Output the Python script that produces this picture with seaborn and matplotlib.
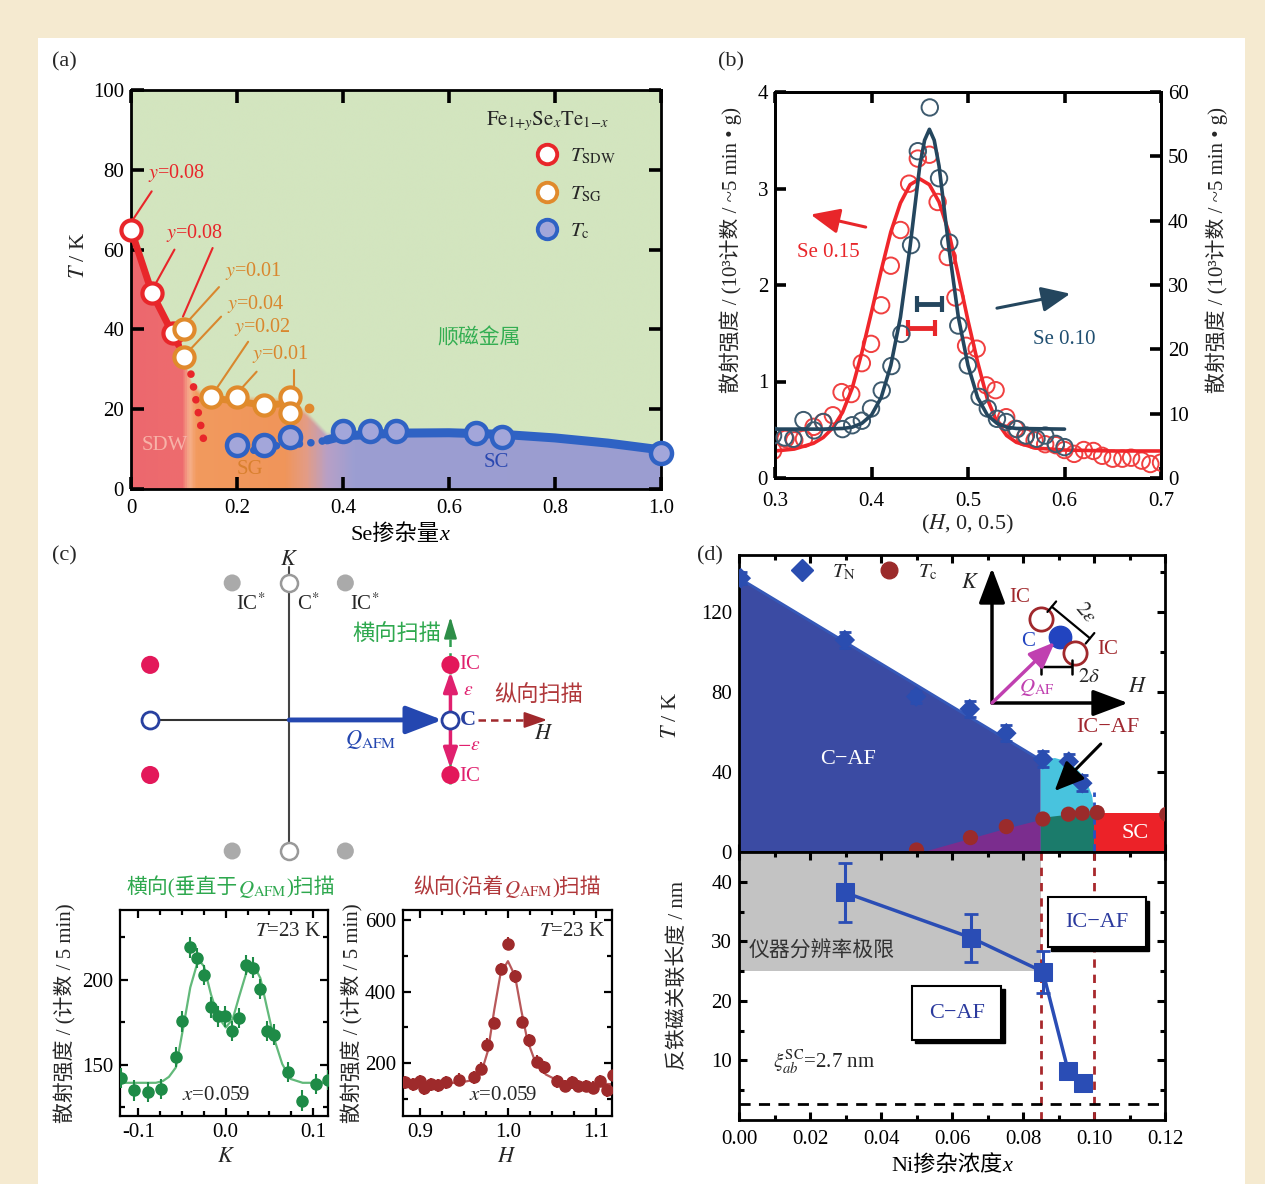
import numpy as np
import pandas as pd
import matplotlib
matplotlib.use("Agg")
import matplotlib.pyplot as plt
import seaborn as sns
from matplotlib.patches import Rectangle
from matplotlib.lines import Line2D
from matplotlib.colors import LinearSegmentedColormap, to_rgba
from matplotlib.offsetbox import TextArea, HPacker, AnnotationBbox
from matplotlib.ticker import MultipleLocator, FormatStrFormatter, FixedLocator

# ======================= DATA =======================
# ---- (a) Fe1+ySexTe1-x phase diagram ----
a_sdw_x = [0.0, 0.04, 0.08]
a_sdw_T = [65, 49, 39]
a_sg_x = [0.10, 0.10, 0.15, 0.20, 0.25, 0.30, 0.30]
a_sg_T = [40, 33, 23, 23, 21, 23, 19]
a_tc_x = [0.20, 0.25, 0.30, 0.40, 0.45, 0.50, 0.65, 0.70, 1.00]
a_tc_T = [11, 11, 13, 14.5, 14.5, 14.5, 14, 13, 9]
a_sdwline_x = [0.0, 0.04, 0.09]
a_sdwline_T = [65, 49, 36]
a_sdwdot_x = [0.108, 0.116, 0.123, 0.130, 0.136, 0.141]
a_sdwdot_T = [32, 27, 22, 17, 13, 10]
a_sgline_x = [0.14, 0.20, 0.25, 0.30]
a_sgline_T = [23, 22, 21, 21.5]
a_sgdot_x = [0.335]
a_sgdot_T = [20.2]
a_scdot_x = [0.21, 0.24, 0.28, 0.31, 0.34, 0.37]
a_scdot_T = [9.5, 9.8, 11, 11.2, 11.6, 12.2]
a_scline_x = [0.37, 0.40, 0.50, 0.60, 0.70, 0.80, 0.90, 1.00]
a_scline_T = [12.3, 13.3, 14.0, 14.1, 13.7, 12.8, 11.5, 9.8]
a_bnd_x = [0.0, 0.04, 0.09, 0.115, 0.14, 0.30, 0.33, 0.37, 0.40, 0.60, 0.80, 1.00]
a_bnd_T = [65, 49, 37, 26, 23, 22, 19, 13.5, 13.5, 14.1, 12.8, 9.8]
a_yl_text = ["y=0.08", "y=0.08", "y=0.01", "y=0.04", "y=0.02", "y=0.01"]

# ---- (b) neutron scans ----
b_red_H = [0.298, 0.311, 0.320, 0.330, 0.340, 0.350, 0.360, 0.369, 0.379, 0.390, 0.3995, 0.410,
           0.420, 0.430, 0.439, 0.448, 0.460, 0.4685, 0.479, 0.487, 0.498, 0.509, 0.519, 0.5286,
           0.5396, 0.549, 0.559, 0.569, 0.580, 0.591, 0.600, 0.610, 0.620, 0.630, 0.639, 0.650,
           0.660, 0.669, 0.680, 0.689, 0.700]
b_red_I = [0.28, 0.405, 0.39, 0.405, 0.53, 0.58, 0.65, 0.89, 0.87, 1.19, 1.39, 1.79, 2.20, 2.57,
           3.05, 3.31, 3.35, 2.86, 2.29, 1.87, 1.37, 1.34, 0.96, 0.91, 0.63, 0.51, 0.42, 0.39,
           0.35, 0.34, 0.29, 0.25, 0.29, 0.28, 0.23, 0.20, 0.20, 0.21, 0.18, 0.145, 0.16]
b_blue_H = [0.298, 0.310, 0.319, 0.3295, 0.3405, 0.350, 0.370, 0.380, 0.390, 0.3995, 0.4106,
            0.4206, 0.431, 0.441, 0.448, 0.4604, 0.470, 0.4806, 0.4899, 0.4998, 0.512, 0.5205,
            0.530, 0.5396, 0.5507, 0.560, 0.571, 0.580, 0.591, 0.600]
b_blue_I = [6.6, 6.3, 6.1, 9.0, 7.4, 8.7, 7.6, 8.2, 8.9, 10.8, 13.6, 17.4, 22.4, 36.2, 50.8,
            57.6, 46.6, 36.6, 23.7, 17.5, 12.6, 10.8, 9.2, 8.7, 7.6, 6.6, 6.1, 6.6, 5.3, 4.8]
b_redfit_H = [0.30, 0.32, 0.34, 0.35, 0.36, 0.37, 0.38, 0.39, 0.40, 0.41, 0.42, 0.43, 0.44, 0.45,
              0.46, 0.47, 0.48, 0.49, 0.50, 0.51, 0.52, 0.53, 0.54, 0.55, 0.57, 0.60, 0.65, 0.70]
b_redfit_I = [0.28, 0.30, 0.36, 0.42, 0.52, 0.68, 0.93, 1.30, 1.72, 2.15, 2.55, 2.85, 3.04, 3.10,
              3.04, 2.86, 2.55, 2.10, 1.63, 1.20, 0.82, 0.58, 0.44, 0.37, 0.31, 0.29, 0.28, 0.28]
b_bluefit_H = [0.30, 0.35, 0.37, 0.38, 0.39, 0.40, 0.41, 0.42, 0.43, 0.44, 0.45, 0.455, 0.46,
               0.465, 0.47, 0.48, 0.49, 0.50, 0.51, 0.52, 0.53, 0.54, 0.55, 0.60]
b_bluefit_I = [7.6, 7.6, 7.7, 7.9, 8.5, 9.8, 12.5, 17.5, 25, 36, 48.5, 52.5, 54.2, 52.5, 48.5,
               36, 25, 17.5, 12.5, 9.8, 8.5, 7.9, 7.7, 7.6]
b_res_center = [0.452, 0.460]   # red, blue resolution bars
b_res_half = [0.014, 0.0133]
b_res_level = [1.55, 27.0]      # red (left axis), blue (right axis)

# ---- (c) schematic (reciprocal lattice units of the sketch) ----
c_gray_x = [-0.354, 0.348, -0.354, 0.348]
c_gray_y = [0.851, 0.851, -0.814, -0.814]
c_cstar_x = [0.0, 0.0]
c_cstar_y = [0.851, -0.814]
c_red_x = [-0.863, -0.863]
c_red_y = [0.342, -0.342]
c_ic_x = [1.0, 1.0]
c_ic_y = [0.342, -0.342]
c_open_x = [-0.863, 1.0]
c_open_y = [0.0, 0.0]

# ---- (c) transverse / longitudinal scans ----
ck_K = [-0.120, -0.105, -0.0887, -0.0736, -0.057, -0.0495, -0.0406, -0.033, -0.025, -0.017,
        -0.0085, -0.0005, 0.007, 0.015, 0.0236, 0.0316, 0.0396, 0.047, 0.055, 0.0708, 0.0873,
        0.1033, 0.1175]
ck_I = [142.4, 135, 134, 136, 154.5, 175.6, 219, 212.7, 202.7, 183.8, 178.5, 178.5, 170, 177.7,
        208.6, 207.2, 194.7, 170, 167.8, 145.7, 129, 138.9, 141.2]
ck_fit_K = [-0.121, -0.08, -0.072, -0.065, -0.057, -0.0486, -0.0406, -0.033, -0.03, -0.025,
            -0.017, -0.0085, 0.0, 0.008, 0.015, 0.0236, 0.029, 0.034, 0.0396, 0.047, 0.055,
            0.0646, 0.074, 0.088, 0.117]
ck_fit_I = [139.5, 139.5, 140.5, 143, 148.6, 172, 195.5, 209, 211, 208, 191.6, 178, 172, 177,
            189.6, 204.3, 207, 206.6, 201, 184, 166, 150.6, 141.8, 139.5, 139.5]
ch_H = [0.883, 0.892, 0.900, 0.905, 0.913, 0.921, 0.930, 0.945, 0.961, 0.9696, 0.9766, 0.9845,
        0.9925, 1.000, 1.008, 1.0164, 1.024, 1.033, 1.041, 1.056, 1.065, 1.0726, 1.080, 1.089,
        1.097, 1.104, 1.112, 1.119]
ch_I = [146, 141, 149, 130, 141, 138, 146, 153, 160, 184, 251, 312, 463, 534, 443, 315, 264,
        204, 188, 149, 136, 146, 136, 136, 131, 150, 124, 166]
ch_fit_H = [0.881, 0.92, 0.947, 0.961, 0.9705, 0.9775, 0.9845, 0.9916, 1.0, 1.008, 1.015, 1.022,
            1.031, 1.043, 1.055, 1.0735, 1.118]
ch_fit_I = [141, 142, 146, 153, 179, 236, 349, 450, 485, 444, 349, 264, 203, 168, 153, 145, 141]

# ---- (d) BaFe2-xNixAs2 ----
d_tn_x = [0.0005, 0.0298, 0.0499, 0.065, 0.0753, 0.0856, 0.0929, 0.0967]
d_tn_T = [136.9, 106.0, 77.7, 71.5, 59.4, 46.4, 45.2, 34.4]
d_tn_err = [3, 4, 3, 4, 4, 4, 4, 4]
d_tc_x = [0.050, 0.0652, 0.0753, 0.0856, 0.0928, 0.0967, 0.1009, 0.1205]
d_tc_T = [1.0, 7.2, 12.7, 16.5, 18.9, 19.4, 19.7, 18.9]
d_caf_x = [0.0, 0.0, 0.085, 0.085]
d_caf_T = [0.0, 137.0, 46.0, 0.0]
d_icaf_x = [0.085, 0.085, 0.089, 0.093, 0.096, 0.098, 0.0995, 0.100, 0.100]
d_icaf_T = [0.0, 46.0, 47.0, 45.0, 40.0, 35.0, 28.0, 20.0, 0.0]
d_pur_x = [0.052, 0.065, 0.075, 0.085, 0.085]
d_pur_T = [0.0, 6.5, 11.5, 16.0, 0.0]
d_teal_x = [0.085, 0.085, 0.092, 0.100, 0.100]
d_teal_T = [0.0, 17.0, 18.5, 19.0, 0.0]
d_sc_x = [0.100, 0.100, 0.120, 0.120]
d_sc_T = [0.0, 19.5, 19.5, 0.0]
d_xi_x = [0.0298, 0.0654, 0.0856, 0.0927, 0.0969]
d_xi = [38.2, 30.6, 24.9, 8.3, 6.2]
d_xi_err = [5.0, 4.0, 3.5, 0.8, 0.5]
d_xi_sc = 2.7
d_res_limit = 25.0
d_bounds = [0.085, 0.100]

# ======================= STYLE =======================
sns.set_theme(style="white")
FAM = ["Liberation Serif", "Noto Sans CJK SC", "DejaVu Sans"]
plt.rcParams["font.family"] = FAM
plt.rcParams["mathtext.fontset"] = "stix"
plt.rcParams["axes.unicode_minus"] = True

W, H = 1265, 1184
fig = plt.figure(figsize=(W / 100, H / 100), dpi=100)
fig.patch.set_facecolor("#F5EAD0")
fig.add_artist(Rectangle((38 / W, 0), (1245 - 38) / W, 1 - 38 / H, transform=fig.transFigure,
                         fc="white", ec="none", zorder=-5))


def pax(l, t, r, b):
    return fig.add_axes([l / W, 1 - b / H, (r - l) / W, (b - t) / H])


def ftext(x, y, s, **kw):
    kw.setdefault("ha", "center")
    kw.setdefault("va", "center")
    return fig.text(x / W, 1 - y / H, s, **kw)


def mixed(x, y, parts, fs=15, color="black"):
    boxes = []
    for s, extra in parts:
        props = dict(fontsize=fs, color=color, family=FAM)
        props.update(extra)
        boxes.append(TextArea(s, textprops=props))
    pack = HPacker(children=boxes, align="baseline", pad=0, sep=0)
    ab = AnnotationBbox(pack, (x, H - y), xycoords="figure pixels", frameon=False,
                        box_alignment=(0.5, 0.5), pad=0)
    fig.add_artist(ab)


def style(ax, lw=1.8, tl=7, tw=2.0, ls=14, pad=5):
    for sp in ax.spines.values():
        sp.set_linewidth(lw)
        sp.set_color("black")
        sp.set_visible(True)
    ax.tick_params(which="both", direction="in", top=True, right=True, bottom=True, left=True,
                   width=tw, colors="black", labelsize=ls, pad=pad)
    ax.tick_params(which="major", length=tl)
    ax.tick_params(which="minor", length=tl * 0.6)


RED = "#E8262A"
ORG = "#D9872E"
BLU = "#2F62C4"

# ======================= (a) =======================
axa = pax(131, 90, 661, 489)
xs = np.linspace(0, 1, 700)
Ts = np.linspace(0, 100, 500)
Tb = np.interp(xs, a_bnd_x, a_bnd_T)
cm = LinearSegmentedColormap.from_list("ph", [
    (0.0, "#EC686E"), (0.095, "#EE6C6E"), (0.108, "#F6B08C"), (0.122, "#F29A5E"),
    (0.29, "#F0955A"), (0.33, "#E39C86"), (0.37, "#B8A0C6"), (0.42, "#9C9ED2"), (1.0, "#9B9DD0")])
base = cm(xs)
green = np.array(to_rgba("#D3E5BF"))
wgt = np.clip((Ts[:, None] - Tb[None, :]) / 1.6 + 0.5, 0, 1)[..., None]
img = base[None, :, :] * (1 - wgt) + green[None, None, :] * wgt
axa.imshow(img, extent=[0, 1, 0, 100], origin="lower", aspect="auto", interpolation="bilinear", zorder=0)

axa.plot(a_sdwline_x, a_sdwline_T, color=RED, lw=5, solid_capstyle="round", zorder=3)
axa.plot(a_sdwdot_x, a_sdwdot_T, color=RED, lw=5.5, ls=(0, (0.01, 1.7)), dash_capstyle="round", zorder=3)
axa.plot(a_sgline_x, a_sgline_T, color="#E0892E", lw=5, solid_capstyle="round", zorder=3)
axa.plot(a_sgdot_x, a_sgdot_T, "o", color="#E0892E", ms=6, zorder=3)
axa.plot(a_scdot_x, a_scdot_T, color=BLU, lw=5.5, ls=(0, (0.01, 1.5)), dash_capstyle="round", zorder=3)
axa.plot(a_scline_x, a_scline_T, color=BLU, lw=6.5, solid_capstyle="round", zorder=3)

sns.scatterplot(x=a_sdw_x, y=a_sdw_T, ax=axa, s=210, facecolor="white", edgecolor=RED,
                linewidth=3, zorder=5, legend=False, clip_on=False)
sns.scatterplot(x=a_sg_x, y=a_sg_T, ax=axa, s=210, facecolor="white", edgecolor="#E08A2C",
                linewidth=3, zorder=6, legend=False, clip_on=False)
sns.scatterplot(x=a_tc_x, y=a_tc_T, ax=axa, s=230, facecolor="#A3A6DA", edgecolor=BLU,
                linewidth=3.2, zorder=6, legend=False, clip_on=False)

# annotations y=...
a_yl_pos = [(0.033, 79.2), (0.066, 64.1), (0.177, 54.6), (0.181, 46.4), (0.194, 40.5), (0.229, 33.8)]
a_yl_col = [RED, RED, ORG, ORG, ORG, ORG]
for s, (px_, py_), c in zip(a_yl_text, a_yl_pos, a_yl_col):
    axa.text(px_, py_, "$y$" + s[1:], color=c, fontsize=14.5, ha="left", va="center", zorder=7)
a_lead = [((0.003, 67.4), (0.039, 74.6), RED), ((0.047, 51.6), (0.082, 60.0), RED),
          ((0.098, 43.2), (0.154, 60.4), RED), ((0.110, 42.4), (0.166, 50.6), ORG),
          ((0.114, 35.3), (0.170, 43.2), ORG), ((0.162, 25.3), (0.221, 36.9), ORG),
          ((0.209, 25.3), (0.237, 29.4), ORG), ((0.307, 25.6), (0.307, 29.8), ORG)]
for p0, p1, c in a_lead:
    axa.plot([p0[0], p1[0]], [p0[1], p1[1]], color=c, lw=1.5, zorder=4)

axa.text(0.064, 11, "SDW", color="#F7B2A8", fontsize=15, ha="center", va="center", zorder=4)
axa.text(0.225, 5, "SG", color="#D9802E", fontsize=15, ha="center", va="center", zorder=4)
axa.text(0.69, 6.6, "SC", color="#2A48B0", fontsize=15, ha="center", va="center", zorder=4)
axa.text(0.656, 37.8, "顺磁金属", color="#34AE52", fontsize=15, ha="center", va="center", zorder=4)
axa.text(0.785, 92.3, r"$\mathrm{Fe}_{1{+}y}\mathrm{Se}_{x}\mathrm{Te}_{1{-}x}$", fontsize=15,
         ha="center", va="center", zorder=7)
hd = [Line2D([], [], marker="o", ls="none", ms=14, mfc="white", mec=RED, mew=2.8),
      Line2D([], [], marker="o", ls="none", ms=14, mfc="white", mec="#E08A2C", mew=2.8),
      Line2D([], [], marker="o", ls="none", ms=14, mfc="#A3A6DA", mec=BLU, mew=2.8)]
lg = axa.legend(hd, [r"$T_{\rm SDW}$", r"$T_{\rm SG}$", r"$T_{\rm c}$"], loc="upper left",
                bbox_to_anchor=(0.765, 0.857), frameon=False, fontsize=15, handlelength=1.0,
                handletextpad=0.6, labelspacing=0.85, borderaxespad=0, borderpad=0)
lg.set_zorder(8)
axa.set_xlim(0, 1)
axa.set_ylim(0, 100)
axa.xaxis.set_major_locator(MultipleLocator(0.2))
axa.yaxis.set_major_locator(MultipleLocator(20))
axa.xaxis.set_major_formatter(matplotlib.ticker.FuncFormatter(lambda v, p: "0" if abs(v) < 1e-9 else f"{v:.1f}"))
style(axa, lw=2.0, tl=9, tw=2.6, ls=15)
axa.tick_params(axis="x", pad=7)
axa.set_xlabel("")
axa.set_ylabel("")
mixed(400, 535, [("Se掺杂量", {}), ("x", {"style": "italic"})], fs=16)
ftext(80, 255, r"$T$ / K", fontsize=16, rotation=90)

# ======================= (b) =======================
axb = pax(775, 92, 1161, 478)
axb2 = axb.twinx()
sns.lineplot(x=b_redfit_H, y=b_redfit_I, ax=axb, color="#F0262B", lw=2.6, zorder=4)
sns.scatterplot(x=b_red_H, y=b_red_I, ax=axb, s=140, facecolor="none", edgecolor="#F04040",
                linewidth=1.4, zorder=3, legend=False)
sns.lineplot(x=b_bluefit_H, y=b_bluefit_I, ax=axb2, color="#24465E", lw=2.6, zorder=4)
sns.scatterplot(x=b_blue_H, y=b_blue_I, ax=axb2, s=140, facecolor="none", edgecolor="#3D5A6E",
                linewidth=1.4, zorder=3, legend=False)
axb.errorbar([b_res_center[0]], [b_res_level[0]], xerr=[b_res_half[0]], fmt="none", ecolor="#E8262A",
             elinewidth=3.5, capsize=6, capthick=3)
axb2.errorbar([b_res_center[1]], [b_res_level[1]], xerr=[b_res_half[1]], fmt="none", ecolor="#24465E",
              elinewidth=3.5, capsize=6, capthick=3)
axb.annotate("", xy=(0.337, 2.73), xytext=(0.394, 2.60),
             arrowprops=dict(arrowstyle="-|>,head_length=0.8,head_width=0.35", color=RED, lw=2.2,
                             mutation_scale=22, shrinkA=0, shrinkB=0))
axb.annotate("", xy=(0.606, 1.91), xytext=(0.530, 1.76),
             arrowprops=dict(arrowstyle="-|>,head_length=0.8,head_width=0.35", color="#24465E", lw=2.2,
                             mutation_scale=22, shrinkA=0, shrinkB=0))
axb.text(0.355, 2.34, "Se 0.15", color=RED, fontsize=15, ha="center", va="center")
axb.text(0.600, 1.44, "Se 0.10", color="#1F4E70", fontsize=15, ha="center", va="center")
axb.set_xlim(0.3, 0.7)
axb.set_ylim(0, 4)
axb2.set_ylim(0, 60)
axb.xaxis.set_major_locator(MultipleLocator(0.1))
axb.yaxis.set_major_locator(MultipleLocator(1))
axb2.yaxis.set_major_locator(MultipleLocator(10))
style(axb, lw=2.0, tl=8, tw=2.6, ls=15)
axb.tick_params(right=False)
axb.tick_params(axis="x", pad=10)
style(axb2, lw=2.0, tl=8, tw=2.6, ls=15)
axb2.tick_params(left=False, top=False, bottom=False, labelleft=False, labelright=True,
                 labelbottom=False)
for a_ in (axb, axb2):
    a_.set_xlabel("")
    a_.set_ylabel("")
ftext(731, 250, "散射强度 / (10³计数 / ~5 min • g)", fontsize=15, rotation=90)
ftext(1217, 250, "散射强度 / (10³计数 / ~5 min • g)", fontsize=15, rotation=90)
ftext(968, 524, r"($H$, 0, 0.5)", fontsize=16)

# ======================= (c) schematic =======================
axc = pax(120, 548, 660, 870)
axc.set_xlim(-1.05, 2.30)
axc.set_ylim(-0.932, 1.068)
axc.axis("off")
axc.plot([0, 0], [-0.87, 0.95], color="#444444", lw=1.5, zorder=1)
axc.plot([c_open_x[0], 0], [0, 0], color="#333333", lw=1.5, zorder=1)
axc.annotate("", xy=(c_open_x[1] - 0.05, 0), xytext=(0, 0),
             arrowprops=dict(arrowstyle="-|>,head_length=1.3,head_width=0.5", color="#2447B0",
                             lw=3.5, mutation_scale=17, shrinkA=0, shrinkB=0), zorder=2)
axc.plot([1.17, 1.52], [0, 0], color="#A0282C", lw=1.8, ls=(0, (3, 2)), zorder=1)
axc.annotate("", xy=(1.60, 0), xytext=(1.52, 0),
             arrowprops=dict(arrowstyle="-|>,head_length=1.0,head_width=0.35", color="#A0282C",
                             lw=1.5, mutation_scale=14, shrinkA=0, shrinkB=0))
axc.plot([1, 1], [-0.40, 0.55], color="#2E9E50", lw=1.8, ls=(0, (3, 2.5)), zorder=1)
axc.annotate("", xy=(1, 0.64), xytext=(1, 0.56),
             arrowprops=dict(arrowstyle="-|>,head_length=1.0,head_width=0.3", color="#2E8E48",
                             lw=1.5, mutation_scale=13, shrinkA=0, shrinkB=0))
for yy in (0.30, -0.30):
    axc.annotate("", xy=(1, yy), xytext=(1, np.sign(yy) * 0.04),
                 arrowprops=dict(arrowstyle="-|>,head_length=1.0,head_width=0.35", color="#E0206E",
                                 lw=2.5, mutation_scale=12, shrinkA=0, shrinkB=0), zorder=3)
sns.scatterplot(x=c_gray_x, y=c_gray_y, ax=axc, s=150, color="#AAAAAA", edgecolor="none", legend=False)
sns.scatterplot(x=c_cstar_x, y=c_cstar_y, ax=axc, s=150, facecolor="white", edgecolor="#999999",
                linewidth=1.8, legend=False, zorder=4)
sns.scatterplot(x=c_red_x, y=c_red_y, ax=axc, s=170, color="#E3185A", edgecolor="none", legend=False)
sns.scatterplot(x=c_ic_x, y=c_ic_y, ax=axc, s=170, color="#E3185A", edgecolor="none", legend=False, zorder=4)
sns.scatterplot(x=c_open_x, y=c_open_y, ax=axc, s=150, facecolor="white", edgecolor="#2840A0",
                linewidth=2, legend=False, zorder=4)
axc.text(0, 0.99, "$K$", fontsize=16, ha="center", va="center")
axc.text(-0.242, 0.72, r"IC$^{*}$", fontsize=15, ha="center", va="center")
axc.text(0.118, 0.72, r"C$^{*}$", fontsize=15, ha="center", va="center")
axc.text(0.466, 0.72, r"IC$^{*}$", fontsize=15, ha="center", va="center")
axc.text(0.665, 0.534, "横向扫描", fontsize=16, color="#2EA84E", ha="center", va="center")
axc.text(1.547, 0.149, "纵向扫描", fontsize=16, color="#B0373A", ha="center", va="center")
axc.text(1.578, -0.093, "$H$", fontsize=16, ha="center", va="center")
axc.text(0.503, -0.124, r"$Q_{\rm AFM}$", fontsize=16, color="#2447B0", ha="center", va="center")
axc.text(1.118, 0.342, "IC", fontsize=15, color="#E0206E", ha="center", va="center")
axc.text(1.118, -0.354, "IC", fontsize=15, color="#E0206E", ha="center", va="center")
axc.text(1.112, 0.18, r"$\varepsilon$", fontsize=14, color="#E0206E", ha="center", va="center")
axc.text(1.112, -0.16, r"$-\varepsilon$", fontsize=14, color="#E0206E", ha="center", va="center")
axc.text(1.11, 0.0, "C", fontsize=16, color="#2840A0", ha="center", va="center", fontweight="bold")

# ======================= (c) scans =======================
axcl = pax(120, 910, 328, 1116)
sns.lineplot(x=ck_fit_K, y=ck_fit_I, ax=axcl, color="#62B97A", lw=1.6, zorder=2)
axcl.errorbar(ck_K, ck_I, yerr=6, fmt="o", color="#1E8B47", ms=8, elinewidth=1.5, capsize=0, zorder=3)
axcl.set_xlim(-0.121, 0.117)
axcl.set_ylim(120, 241)
axcl.xaxis.set_major_locator(MultipleLocator(0.1))
axcl.xaxis.set_minor_locator(MultipleLocator(0.025))
axcl.yaxis.set_major_locator(MultipleLocator(50))
axcl.yaxis.set_minor_locator(MultipleLocator(25))
axcl.xaxis.set_major_formatter(FormatStrFormatter("%.1f"))
style(axcl, lw=1.6, tl=6, tw=1.6, ls=15)
axcl.text(0.97, 0.94, r"$T$=23 K", transform=axcl.transAxes, fontsize=15, ha="right", va="top")
axcl.text(0.46, 0.1, r"$x$=0.059", transform=axcl.transAxes, fontsize=15, ha="center", va="center")
axcl.set_xlabel("")
axcl.set_ylabel("")

axcr = pax(403, 910, 612, 1116)
sns.lineplot(x=ch_fit_H, y=ch_fit_I, ax=axcr, color="#B8585A", lw=1.6, zorder=2)
axcr.errorbar(ch_H, ch_I, yerr=18, fmt="o", color="#9E2A2B", ms=8, elinewidth=1.5, capsize=0, zorder=3)
axcr.set_xlim(0.881, 1.118)
axcr.set_ylim(52, 628)
axcr.xaxis.set_major_locator(MultipleLocator(0.1))
axcr.xaxis.set_minor_locator(MultipleLocator(0.025))
axcr.yaxis.set_major_locator(MultipleLocator(200))
axcr.yaxis.set_minor_locator(MultipleLocator(100))
axcr.xaxis.set_major_formatter(FormatStrFormatter("%.1f"))
style(axcr, lw=1.6, tl=6, tw=1.6, ls=15)
axcr.text(0.97, 0.94, r"$T$=23 K", transform=axcr.transAxes, fontsize=15, ha="right", va="top")
axcr.text(0.48, 0.1, r"$x$=0.059", transform=axcr.transAxes, fontsize=15, ha="center", va="center")
axcr.set_xlabel("")
axcr.set_ylabel("")

mixed(231, 888, [("横向(垂直于", {}), (r"$Q_{\rm AFM}$", {}), (")扫描", {})], fs=15, color="#2EA84E")
mixed(507, 888, [("纵向(沿着", {}), (r"$Q_{\rm AFM}$", {}), (")扫描", {})], fs=15, color="#B0373A")
ftext(65, 1013, "散射强度 / (计数 / 5 min)", fontsize=15, rotation=90)
ftext(352, 1013, "散射强度 / (计数 / 5 min)", fontsize=15, rotation=90)
ftext(226, 1158, "$K$", fontsize=16)
ftext(507, 1158, "$H$", fontsize=16)

# ======================= (d) top =======================
axd1 = pax(739, 555, 1165, 852)
axd1.fill(d_caf_x, d_caf_T, color="#3B4BA3", lw=0, zorder=1)
axd1.fill(d_icaf_x, d_icaf_T, color="#48C3DE", lw=0, zorder=1)
axd1.fill(d_pur_x, d_pur_T, color="#7B2D8E", lw=0, zorder=2)
axd1.fill(d_teal_x, d_teal_T, color="#1B7B6B", lw=0, zorder=2)
axd1.fill(d_sc_x, d_sc_T, color="#EC2228", lw=0, zorder=2)
axd1.plot(d_caf_x[1:3], d_caf_T[1:3], color="#3558B8", lw=2, zorder=2)
axd1.plot([0.1, 0.1], [0, 30], color="#2850C0", lw=2, ls=(0, (3, 2)), zorder=3)
axd1.errorbar(d_tn_x, d_tn_T, yerr=d_tn_err, fmt="none", ecolor="#2A4DB0", elinewidth=2,
              capsize=4, capthick=2, zorder=4)
sns.scatterplot(x=d_tn_x, y=d_tn_T, ax=axd1, marker="D", s=110, color="#2A4DB0", edgecolor="none",
                legend=False, zorder=5)
sns.scatterplot(x=d_tc_x, y=d_tc_T, ax=axd1, marker="o", s=120, color="#9B2B2B", edgecolor="none",
                legend=False, zorder=5)
axd1.text(0.0307, 46, "C−AF", color="white", fontsize=16, ha="center", va="center", zorder=6)
axd1.text(0.1115, 9.5, "SC", color="white", fontsize=16, ha="center", va="center", zorder=6)
axd1.text(0.1038, 62.5, "IC−AF", color="#A02830", fontsize=16, ha="center", va="center", zorder=6)
axd1.annotate("", xy=(0.0889, 30.5), xytext=(0.1019, 54),
              arrowprops=dict(arrowstyle="-|>,head_length=0.9,head_width=0.4", color="black", lw=2.2,
                              mutation_scale=20, shrinkA=0, shrinkB=0), zorder=7)
hd2 = [Line2D([], [], marker="D", ls="none", ms=11, color="#2A4DB0"),
       Line2D([], [], marker="o", ls="none", ms=12, color="#9B2B2B")]
axd1.legend(hd2, [r"$T_{\rm N}$", r"$T_{\rm c}$"], ncol=2, loc="upper left",
            bbox_to_anchor=((792 - 739) / 426, (852 - 563) / 297), frameon=False, fontsize=15,
            handlelength=1.0, columnspacing=1.1, handletextpad=0.9, borderaxespad=0, borderpad=0)
axd1.set_xlim(0, 0.12)
axd1.set_ylim(0, 148.5)
axd1.xaxis.set_major_locator(MultipleLocator(0.02))
axd1.xaxis.set_minor_locator(MultipleLocator(0.01))
axd1.yaxis.set_major_locator(MultipleLocator(40))
axd1.yaxis.set_minor_locator(MultipleLocator(20))
style(axd1, lw=2.0, tl=6, tw=2.2, ls=15)
axd1.tick_params(labelbottom=False)
axd1.set_xlabel("")
axd1.set_ylabel("")

# inset sketch
axi = pax(960, 560, 1160, 712)
axi.set_xlim(-0.32, 1.68)
axi.set_ylim(-0.09, 1.43)
axi.axis("off")
i_C = (0.68, 0.66)
i_IC_x = [0.49, 0.83]
i_IC_y = [0.84, 0.50]
axi.annotate("", xy=(0, 1.35), xytext=(0, 0),
             arrowprops=dict(arrowstyle="-|>,head_length=1.2,head_width=0.45", color="black", lw=2.5,
                             mutation_scale=18, shrinkA=0, shrinkB=0))
axi.annotate("", xy=(1.36, 0), xytext=(0, 0),
             arrowprops=dict(arrowstyle="-|>,head_length=1.2,head_width=0.45", color="black", lw=2.5,
                             mutation_scale=18, shrinkA=0, shrinkB=0))
axi.scatter([i_C[0]], [i_C[1]], s=260, color="#2244C0", zorder=3)
axi.annotate("", xy=(0.63, 0.61), xytext=(0, 0),
             arrowprops=dict(arrowstyle="-|>,head_length=1.0,head_width=0.4", color="#C040B0", lw=2.5,
                             mutation_scale=16, shrinkA=0, shrinkB=0), zorder=4)
axi.scatter(i_IC_x, i_IC_y, s=280, facecolor="white", edgecolor="#A0282C", linewidth=2, zorder=3)
axi.annotate("", xy=(0.98, 0.647), xytext=(0.598, 0.963),
             arrowprops=dict(arrowstyle="|-|,widthA=0.35,widthB=0.35", color="black", lw=1.6,
                             mutation_scale=14, shrinkA=0, shrinkB=0))
axi.annotate("", xy=(0.80, 0.36), xytext=(0.49, 0.36),
             arrowprops=dict(arrowstyle="|-|,widthA=0.35,widthB=0.35", color="black", lw=1.8,
                             mutation_scale=14, shrinkA=0, shrinkB=0))
axi.text(-0.22, 1.19, "$K$", fontsize=16, ha="center", va="center")
axi.text(1.46, 0.16, "$H$", fontsize=16, ha="center", va="center")
axi.text(0.28, 1.05, "IC", fontsize=15, color="#A0282C", ha="center", va="center")
axi.text(1.16, 0.53, "IC", fontsize=15, color="#A0282C", ha="center", va="center")
axi.text(0.36, 0.61, "C", fontsize=15, color="#2244C0", ha="center", va="center")
axi.text(0.45, 0.15, r"$Q_{\rm AF}$", fontsize=15, color="#C040B0", ha="center", va="center")
axi.text(0.93, 0.90, r"$2\varepsilon$", fontsize=15, ha="center", va="center", rotation=-50)
axi.text(0.97, 0.26, r"$2\delta$", fontsize=15, ha="center", va="center")

# ======================= (d) bottom =======================
axd2 = pax(739, 852, 1165, 1120)
axd2.fill_between([0, d_bounds[0]], d_res_limit, 45, color="#C3C3C3", lw=0, zorder=0)
for xb in d_bounds:
    axd2.axvline(xb, color="#A8282C", lw=2, ls=(0, (3, 2.5)), zorder=2)
axd2.axhline(d_xi_sc, color="black", lw=2, ls=(0, (4, 3)), zorder=2)
axd2.errorbar(d_xi_x, d_xi, yerr=d_xi_err, fmt="none", ecolor="#2A4DB5", elinewidth=2.2,
              capsize=5, capthick=2, zorder=3)
sns.lineplot(x=d_xi_x, y=d_xi, ax=axd2, color="#2A4DB5", lw=2.5, marker="s", ms=13,
             markeredgecolor="#2A4DB5", zorder=4)
for (x0, y0, x1, y1, lab) in [(0.0488, 13.4, 0.0739, 22.5, "C−AF"), (0.0871, 29.0, 0.1147, 37.4, "IC−AF")]:
    axd2.add_patch(Rectangle((x0 + 0.0009, y0 - 0.55), x1 - x0, y1 - y0, fc="black", ec="black", lw=1, zorder=5))
    axd2.add_patch(Rectangle((x0, y0), x1 - x0, y1 - y0, fc="white", ec="black", lw=1.5, zorder=6))
    axd2.text((x0 + x1) / 2, (y0 + y1) / 2, lab, color="#2B3A9E", fontsize=16, ha="center",
              va="center", zorder=7)
axd2.text(0.0234, 28.2, "仪器分辨率极限", color="#333333", fontsize=15, ha="center", va="center", zorder=3)
axd2.text(0.024, 9.7, r"$\xi_{ab}^{\rm SC}$=2.7 nm", fontsize=15, ha="center", va="center", zorder=3)
axd2.set_xlim(0, 0.12)
axd2.set_ylim(0, 45)
axd2.xaxis.set_major_locator(MultipleLocator(0.02))
axd2.xaxis.set_minor_locator(MultipleLocator(0.01))
axd2.yaxis.set_major_locator(FixedLocator([10, 20, 30, 40]))
axd2.yaxis.set_minor_locator(FixedLocator([5, 15, 25, 35]))
axd2.xaxis.set_major_formatter(FormatStrFormatter("%.2f"))
style(axd2, lw=2.0, tl=6, tw=2.2, ls=15)
axd2.tick_params(axis="x", pad=7)
axd2.set_xlabel("")
axd2.set_ylabel("")
ftext(672, 715, r"$T$ / K", fontsize=16, rotation=90)
ftext(678, 975, "反铁磁关联长度 / nm", fontsize=15, rotation=90)
mixed(952, 1166, [("Ni掺杂浓度", {}), ("x", {"style": "italic"})], fs=16)

# panel labels
for lab, (x, y) in {"(a)": (64, 62), "(b)": (731, 62), "(c)": (64, 556), "(d)": (710, 556)}.items():
    ftext(x, y, lab, fontsize=16)

fig.savefig("out.png", dpi=100, facecolor=fig.get_facecolor())
